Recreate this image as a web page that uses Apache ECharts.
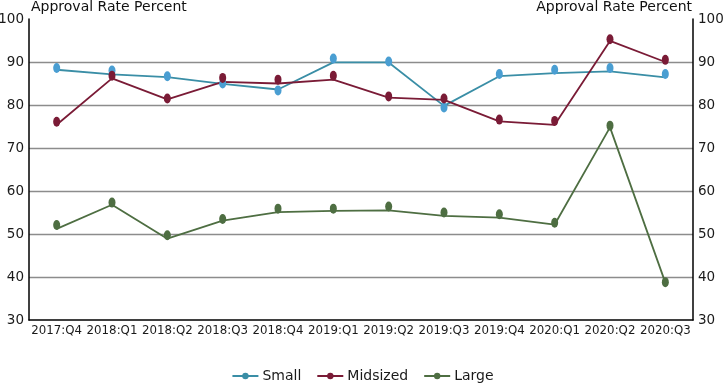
<!DOCTYPE html>
<html>
<head>
<meta charset="utf-8">
<script src="https://cdn.jsdelivr.net/npm/echarts@6/dist/echarts.min.js"></script>
<style>html,body{margin:0;padding:0;background:#fff}#c{width:725px;height:383px}</style>
</head>
<body>
<div id="c"></div>
<script>
const categories = ['2017:Q4','2018:Q1','2018:Q2','2018:Q3','2018:Q4','2019:Q1','2019:Q2','2019:Q3','2019:Q4','2020:Q1','2020:Q2','2020:Q3'];
const yTicks = [30, 40, 50, 60, 70, 80, 90, 100];
const axisTitle = 'Approval Rate Percent';
// line vertices
const smallLine    = [88.2, 87.1, 86.5, 84.9, 83.6, 89.9, 89.9, 79.8, 86.7, 87.4, 87.8, 86.4];
const midsizedLine = [75.4, 86.2, 81.3, 85.4, 85.0, 85.9, 81.7, 81.2, 76.2, 75.4, 94.9, 90.0];
const largeLine    = [51.2, 56.8, 48.9, 53.1, 55.1, 55.4, 55.5, 54.2, 53.8, 52.2, 74.8, 38.7];
// marker positions
const smallMarks    = [88.6, 88.0, 86.7, 85.0, 83.4, 90.8, 90.1, 79.4, 87.2, 88.2, 88.6, 87.2];
const midsizedMarks = [76.1, 86.8, 81.5, 86.3, 85.9, 86.8, 82.0, 81.5, 76.6, 76.3, 95.3, 90.5];
const largeMarks    = [52.1, 57.3, 49.7, 53.5, 55.9, 55.9, 56.4, 55.0, 54.6, 52.6, 75.2, 38.8];

const FONT = 'DejaVu Sans';
const colors = {
  Small: {line: '#3a8ea6', mark: '#4a9ed2'},
  Midsized: {line: '#7a1b36', mark: '#7a1b36'},
  Large: {line: '#4e6e42', mark: '#4e6e42'}
};
function lineSeries(name, data) {
  return {
    name, type: 'line', data, yAxisIndex: 0,
    symbol: 'circle', symbolSize: 7, showSymbol: false,
    lineStyle: {color: colors[name].line, width: 1.8},
    itemStyle: {color: colors[name].line},
    silent: true, z: 3
  };
}
function markSeries(name, data) {
  return {
    name, type: 'scatter', data, yAxisIndex: 0,
    symbol: 'circle', symbolSize: [7, 10],
    itemStyle: {color: colors[name].mark, opacity: 1},
    silent: true, z: 4
  };
}
const yAxisBase = {
  type: 'value', min: yTicks[0], max: yTicks[yTicks.length - 1], interval: 10,
  name: axisTitle, nameLocation: 'end', nameGap: 5,
  axisLine: {show: true, lineStyle: {color: '#000', width: 1.5}},
  axisTick: {show: false},
  axisLabel: {color: '#1a1a1a', fontFamily: FONT, fontSize: 13.5, margin: 5},
};
const chart = echarts.init(document.getElementById('c'), null, {renderer: 'canvas'});
chart.setOption({
  animation: false,
  backgroundColor: '#fff',
  grid: {left: 29, right: 32, top: 19, bottom: 63, containLabel: false, outerBoundsMode: 'none'},
  legend: {
    top: 364, left: 'center',
    data: ['Small', 'Midsized', 'Large'],
    itemWidth: 26, itemHeight: 8, itemGap: 15,
    textStyle: {fontFamily: FONT, fontSize: 14, color: '#1a1a1a', padding: [0, 0, 0, -1]}
  },
  xAxis: {
    type: 'category', data: categories, boundaryGap: true,
    axisLine: {lineStyle: {color: '#000', width: 1.5}},
    axisTick: {show: false},
    axisLabel: {color: '#1a1a1a', fontFamily: FONT, fontSize: 11.8, margin: 5, interval: 0}
  },
  yAxis: [
    Object.assign({}, yAxisBase, {
      position: 'left',
      nameTextStyle: {fontFamily: FONT, fontSize: 14, color: '#111', align: 'left', padding: [0, 0, 0, 2]},
      splitLine: {show: true, showMaxLine: false, showMinLine: false, lineStyle: {color: '#8c8c8c', width: 1.3}}
    }),
    Object.assign({}, yAxisBase, {
      position: 'right',
      nameTextStyle: {fontFamily: FONT, fontSize: 14, color: '#111', align: 'right', padding: [0, 1, 0, 0]},
      splitLine: {show: false}
    })
  ],
  series: [
    lineSeries('Small', smallLine),
    lineSeries('Midsized', midsizedLine),
    lineSeries('Large', largeLine),
    markSeries('Small', smallMarks),
    markSeries('Midsized', midsizedMarks),
    markSeries('Large', largeMarks)
  ]
});
</script>
</body>
</html>
